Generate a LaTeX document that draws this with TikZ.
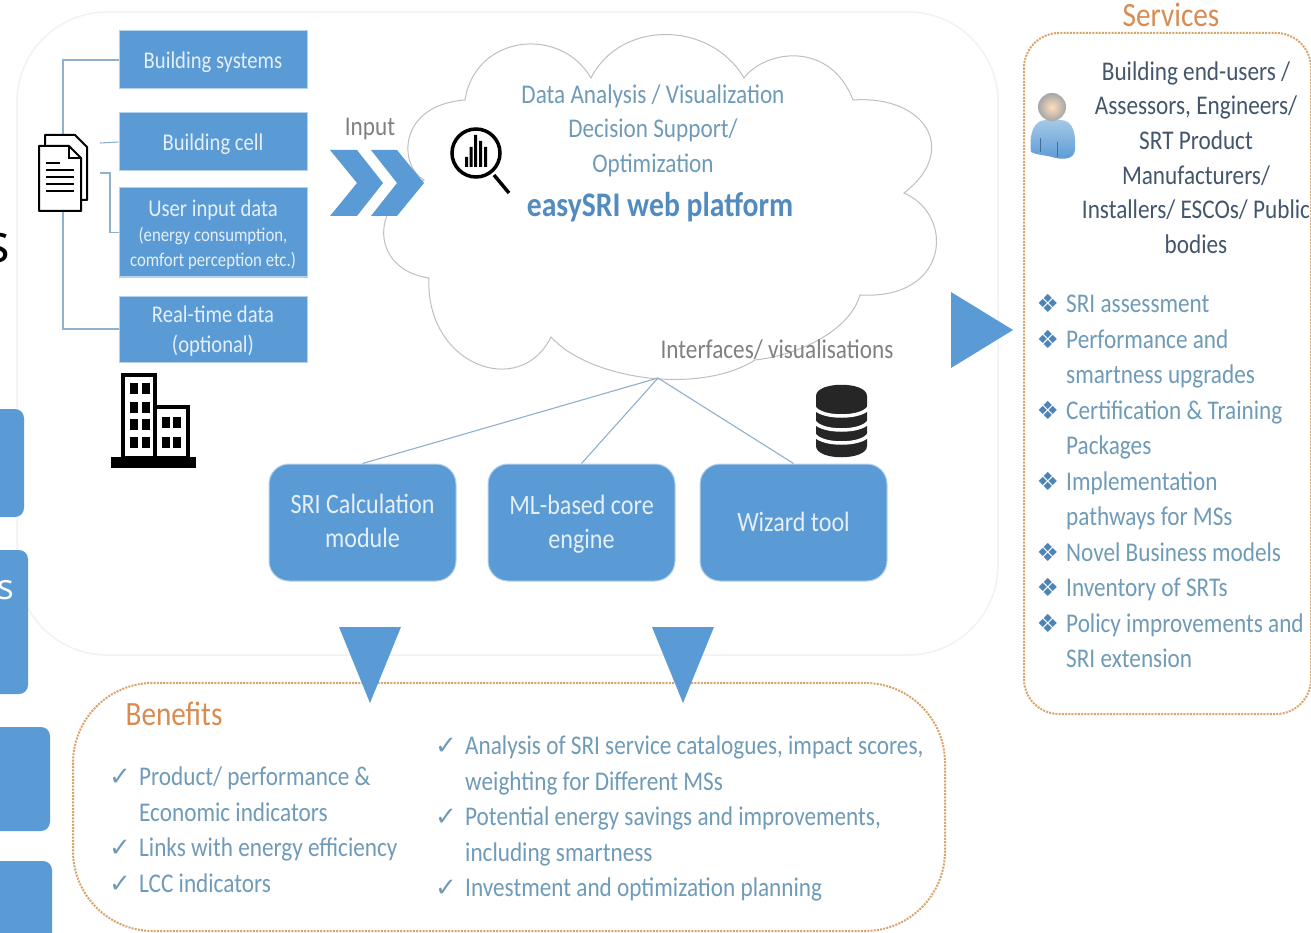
\documentclass[tikz,border=0pt]{standalone}
\usepackage{fontspec}
\setmainfont[FakeStretch=0.86]{Carlito}
\newfontfamily\symf{DejaVu Sans}
\newfontfamily\slidef{Open Sans}
\definecolor{boxblue}{HTML}{5B9BD5}
\definecolor{boxtxt}{HTML}{E4EFF8}
\definecolor{listtxt}{HTML}{6F9BB8}
\definecolor{linkc}{HTML}{8FB0CE}
\definecolor{orangec}{HTML}{D98C52}
\definecolor{dotc}{HTML}{D9A46C}
\definecolor{usertxt}{HTML}{44566C}
\newcommand{\fs}[2]{\fontsize{#1}{#2}\selectfont}
\newcommand{\bul}{\llap{\makebox[29.5pt][l]{\symf\fs{25}{25}\textcolor{boxblue!85!black}{❖}}}}
\newcommand{\chk}{\llap{\makebox[30pt][l]{\symf\fs{26}{26}\textcolor{listtxt}{✓}}}}
\newcommand{\up}[1]{\rule{0pt}{#1pt}}
\newcommand{\dn}[1]{\rule[-#1pt]{0pt}{#1pt}}
\tikzset{
  sqbox/.style={rectangle,fill=boxblue,draw=boxblue!45,line width=1pt,inner sep=0pt,text=boxtxt,align=center,font=\fs{24}{30}},
  rbox/.style={rectangle,rounded corners=20pt,fill=boxblue,draw=boxblue!45,line width=1pt,inner sep=0pt,minimum width=187pt,minimum height=117pt,text=boxtxt,align=center,font=\fs{28}{34}},
  edgeblue/.style={fill=boxblue,draw=none},
  sidebox/.style={fill=boxblue,draw=none,rounded corners=9pt},
  link/.style={draw=linkc,line width=1.1pt},
  dotbox/.style={draw=dotc,line width=2pt,dash pattern=on 2pt off 1.2pt},
  listtext/.style={inner sep=0pt,align=left,text=listtxt,font=\fs{27}{35.5},anchor=north west},
  cloudtext/.style={inner sep=0pt,align=center,text=listtxt,font=\fs{27}{34.5}},
  ink/.style={draw=black,line width=2pt,fill=white,line join=round}
}
\begin{document}
\begin{tikzpicture}[x=1pt,y=-1pt]
\useasboundingbox (0,0) rectangle (1311,933);
\clip (0,0) rectangle (1311,933);
\fill[white] (0,0) rectangle (1311,933);

% outer panel and cropped pieces of the neighbouring slide at the left edge
\draw[draw=black!5,line width=1.5pt,rounded corners=90pt] (17,12) rectangle (998,655);
\fill[sidebox] (-30,409) rectangle (24,517);
\fill[sidebox] (-30,550) rectangle (28,694);
\fill[sidebox] (-30,727) rectangle (50,831);
\fill[sidebox] (-30,861) rectangle (52,970);
\node[anchor=base east,inner sep=0pt,text=black,font={\slidef\fs{54}{54}}] (slideS) at (10,262) {s};
\node[anchor=base east,inner sep=0pt,text=white,font={\slidef\fs{35}{35}}] (slideT) at (14,599) {s};

% cloud
\draw[draw=black!25,line width=1pt,fill=white]
  (424,180) .. controls (398,165) and (398,105) .. (465,100)
  .. controls (475,35) and (560,25) .. (591,78)
  .. controls (620,20) and (710,20) .. (744,78)
  .. controls (765,50) and (830,40) .. (853,100)
  .. controls (925,95) and (960,150) .. (904,193)
  .. controls (955,215) and (950,300) .. (860,295)
  .. controls (850,330) and (800,355) .. (755,360)
  .. controls (700,395) and (590,380) .. (551,337)
  .. controls (520,400) and (425,365) .. (429,278)
  .. controls (372,270) and (367,205) .. (424,180) -- cycle;

% input boxes
\node[sqbox,minimum width=188pt,minimum height=58pt] (bs) at (213,60) {\up{22}Building systems};
\node[sqbox,minimum width=188pt,minimum height=58pt] (bc) at (213,142) {\up{22}Building cell};
\node[sqbox,minimum width=188pt,minimum height=89pt] (ui) at (213,232.5) {\up{21}\fs{24}{24}User input data\\[-5pt]\fs{19.5}{24}(energy consumption,\\[-5pt]\fs{19.5}{24}comfort perception etc.)};
\node[sqbox,minimum width=188pt,minimum height=66pt] (rt) at (213,329) {\up{20}Real-time data\\(optional)};

% document icon
\node[inner sep=0pt,minimum width=48pt,minimum height=78pt] (doc) at (63,173) {};
\coordinate (dcell) at (100,143);
\coordinate (duser) at (100,173);
\draw[link] (bs.west) -| (doc.north);
\draw[link] (bc.west) -- (dcell);
\draw[link] (ui.west) -| (110,173) -- (duser);
\draw[link] (rt.west) -| (doc.south);
\draw[ink] (45,135) -- (75,135) -- (87,147) -- (87,200) -- (45,200) -- cycle;
\draw[ink] (39,146) -- (69,146) -- (81,158) -- (81,211) -- (39,211) -- cycle;
\draw[black,line width=1.4pt] (69,146) -- (69,158) -- (81,158);
\draw[black,line width=1.3pt] (46,163) -- (60,163) (46,170) -- (74,170) (46,177) -- (74,177) (46,184) -- (74,184) (46,191) -- (74,191);

% building icon
\fill[black] (111,457) rectangle (196,468);
\draw[black,line width=3.5pt,fill=white] (123,375) rectangle (155,458);
\draw[black,line width=3.5pt,fill=white] (155,407) rectangle (188,458);
\foreach \yy in {383,402,419,437} \foreach \xx in {130,142} \fill[black] (\xx,\yy) rectangle ++(8,10.5);
\foreach \yy in {417,437} \foreach \xx in {162,173} \fill[black] (\xx,\yy) rectangle ++(8,10.5);

% input label and chevrons
\node[inner sep=0pt,text=black!50,font=\fs{27}{30}] (inp) at (370,129) {Input};
\fill[edgeblue] (330,150) -- (357,150) -- (383,183) -- (357,216) -- (330,216) -- (357,183) -- cycle;
\fill[edgeblue] (371,150) -- (397,150) -- (424,183) -- (397,216) -- (371,216) -- (397,183) -- cycle;

% magnifier
\draw[black,line width=3.5pt,fill=white] (476,153) circle (24pt);
\draw[black,line width=3.5pt] (494,175) -- (509,193);
\fill[black] (465,157) rectangle (468,167) (469.5,147) rectangle (472.5,167) (474,135) rectangle (477,167) (479,141) rectangle (482,167) (484,147) rectangle (487,167);

% cloud texts
\node[cloudtext] (cltxt) at (653,130.5) {Data Analysis / Visualization\\Decision Support/\\Optimization};
\node[inner sep=0pt,text=boxblue!90!black,font=\bfseries\fs{34.5}{36}] (easy) at (660,207.5) {easySRI web platform};
\node[inner sep=0pt,text=black!50,font=\fs{27}{30}] (intf) at (777,350) {Interfaces/ visualisations};

% modules
\coordinate (hub) at (658,378);
\node[rbox] (sri) at (362.5,522.5) {SRI Calculation\\module\dn{4}};
\node[rbox] (ml) at (581.5,522.5) {\up{22}ML-based core\\engine};
\node[rbox] (wz) at (793.5,522.5) {Wizard tool\dn{2}};
\draw[link] (hub) -- (sri.north);
\draw[link] (hub) -- (ml.north);
\draw[link] (hub) -- (wz.north);

% database icon
\fill[black!85] (816,396) -- (816,446) .. controls (816,461) and (867,461) .. (867,446) -- (867,396) .. controls (867,381) and (816,381) .. (816,396) -- cycle;
\draw[white,line width=3.5pt] (814,407) .. controls (820,419) and (863,419) .. (869,407);
\draw[white,line width=3.5pt] (814,421) .. controls (820,433) and (863,433) .. (869,421);
\draw[white,line width=3.5pt] (814,434) .. controls (820,446) and (863,446) .. (869,434);

% benefits panel
\draw[dotbox,rounded corners=80pt,fill=white] (73,683) rectangle (945,931);
\fill[edgeblue] (339,627) -- (401,627) -- (370,703) -- cycle;
\fill[edgeblue] (652,627) -- (714,627) -- (683,703) -- cycle;
\node[inner sep=0pt,text=orangec,font=\fs{34}{36}] (ben) at (174,714) {Benefits};
\node[listtext] (bl) at (139,767) {\chk Product/ performance \&\\Economic indicators\\\chk Links with energy efficiency\\\chk LCC indicators};
\node[listtext] (br) at (465,736) {\chk Analysis of SRI service catalogues, impact scores,\\weighting for Different MSs\\\chk Potential energy savings and improvements,\\including smartness\\\chk Investment and optimization planning};

% services panel
\fill[edgeblue] (951,292) -- (951,368) -- (1013,330) -- cycle;
\node[inner sep=0pt,text=orangec,font=\fs{34}{36}] (srv) at (1171,15) {Services};
\draw[dotbox,rounded corners=35pt] (1024,33) rectangle (1311,714);
\node[inner sep=0pt,align=center,text=usertxt,font=\fs{27}{34.6}] (usr) at (1196,157.5) {Building end-users /\\Assessors, Engineers/\\SRT Product\\Manufacturers/\\Installers/ ESCOs/ Public\\bodies};
\node[listtext] (sl) at (1066,294.5) {\bul SRI assessment\\\bul Performance and\\smartness upgrades\\\bul Certification \& Training\\Packages\\\bul Implementation\\pathways for MSs\\\bul Novel Business models\\\bul Inventory of SRTs\\\bul Policy improvements and\\SRI extension};

% person icon
\shade[top color=boxblue!55!white,bottom color=boxblue,draw=none]
  (1031,152) .. controls (1029,135) and (1033,120) .. (1046,120)
  -- (1060,120) .. controls (1074,120) and (1076,135) .. (1075,150)
  .. controls (1074,160) and (1062,160) .. (1052,157)
  .. controls (1045,155) and (1036,155) .. (1031,152) -- cycle;
\draw[boxblue!70!black,line width=0.8pt] (1040,138) -- (1040,152) (1057,142) -- (1057,157);
\shade[inner color=orange!25!white,outer color=black!35] (1052,107) circle (14pt);
\end{tikzpicture}
\end{document}
